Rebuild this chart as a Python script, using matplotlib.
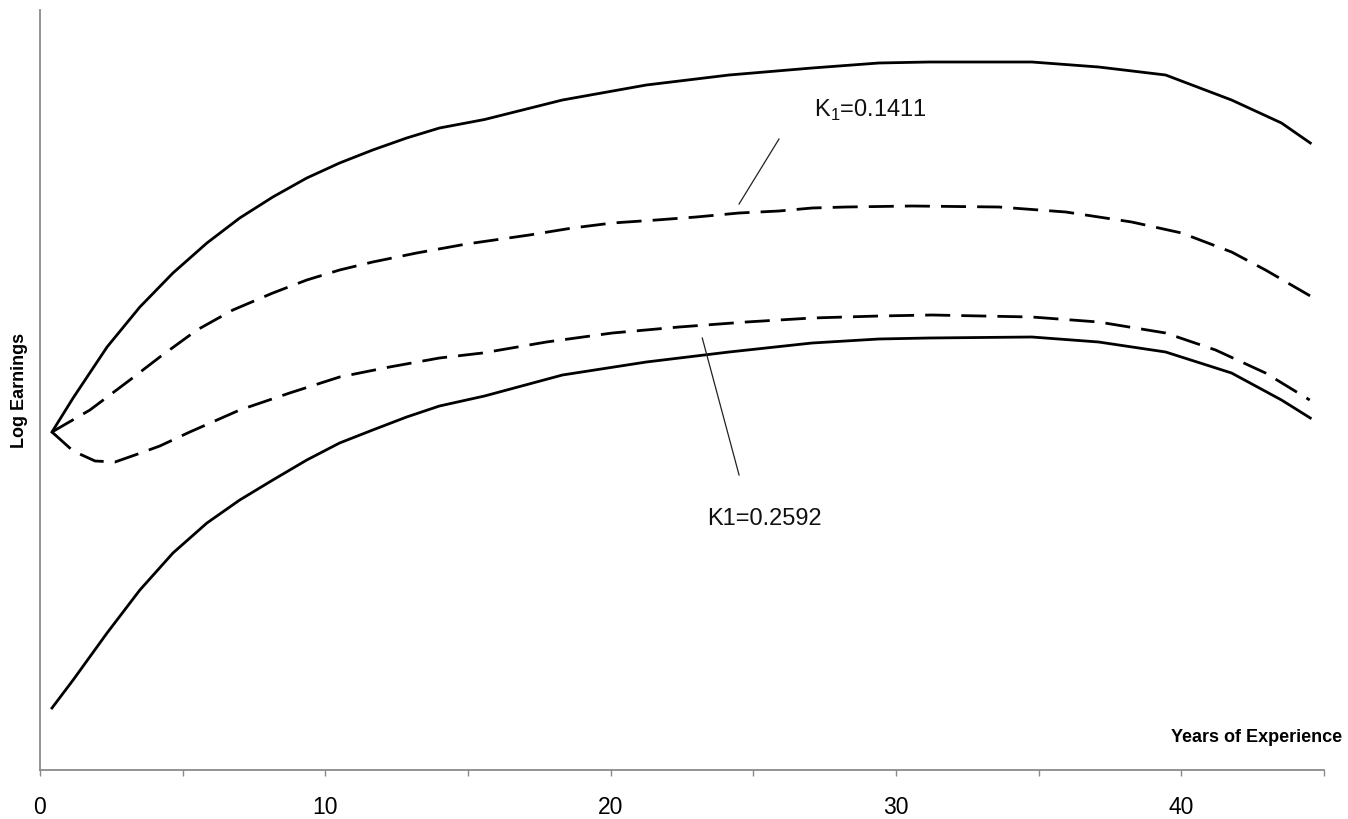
import matplotlib
matplotlib.use("Agg")
import matplotlib.pyplot as plt
from matplotlib.ticker import MultipleLocator, NullLocator

plt.rcParams['font.family'] = ['Liberation Sans', 'DejaVu Sans']
plt.rcParams['mathtext.fontset'] = 'custom'
plt.rcParams['mathtext.rm'] = 'Liberation Sans'
plt.rcParams['lines.scale_dashes'] = False

# Data (y in arbitrary log-earnings units)
x_solid = [0.42, 1.16, 2.35, 3.50, 4.66, 5.85, 7.00, 8.16, 9.35, 10.50, 11.66, 12.85,
           14.00, 15.58, 18.31, 21.25, 24.15, 27.06, 29.40, 31.15, 34.76, 37.10,
           39.45, 41.76, 43.51, 44.52]
upper_solid = [3.38, 3.72, 4.23, 4.63, 4.97, 5.27, 5.52, 5.73, 5.92, 6.07, 6.20, 6.32,
               6.42, 6.505, 6.70, 6.85, 6.95, 7.02, 7.07, 7.08, 7.08, 7.03,
               6.95, 6.70, 6.47, 6.27]
lower_solid = [0.62, 0.90, 1.37, 1.80, 2.17, 2.47, 2.70, 2.90, 3.10, 3.27, 3.40, 3.53,
               3.64, 3.74, 3.95, 4.08, 4.18, 4.27, 4.31, 4.32, 4.33, 4.28,
               4.18, 3.97, 3.70, 3.52]

x_dash_hi = [0.42, 1.75, 3.15, 4.20, 5.50, 6.76, 8.16, 9.35, 10.50, 11.66, 13.20, 14.95,
             17.15, 18.66, 20.06, 21.60, 23.00, 24.50, 25.90, 27.06, 28.25, 30.56,
             33.60, 35.95, 38.26, 40.01, 41.76, 42.95, 44.52]
dash_hi = [3.38, 3.60, 3.90, 4.13, 4.40, 4.60, 4.77, 4.90, 5.00, 5.08, 5.17, 5.26,
           5.35, 5.42, 5.47, 5.50, 5.53, 5.57, 5.59, 5.62, 5.63, 5.64,
           5.63, 5.58, 5.48, 5.37, 5.18, 5.00, 4.74]

x_dash_lo = [0.42, 1.16, 1.93, 2.63, 3.33, 4.20, 5.25, 7.00, 8.75, 10.50, 12.25, 14.00,
             15.51, 17.75, 20.06, 22.40, 24.75, 27.06, 29.40, 31.26, 34.76, 37.10,
             39.45, 41.20, 42.95, 44.50]
dash_lo = [3.38, 3.19, 3.09, 3.08, 3.15, 3.24, 3.38, 3.60, 3.77, 3.93, 4.03, 4.12,
           4.17, 4.28, 4.37, 4.43, 4.48, 4.52, 4.54, 4.55, 4.53, 4.48,
           4.37, 4.20, 3.97, 3.70]

label_hi = "K$_{\\mathregular{1}}$=0.1411"
label_lo = "K1=0.2592"
x_ticks = [0, 10, 20, 30, 40]

fig = plt.figure(figsize=(13.48, 8.19), dpi=100)
ax = fig.add_axes([40/1348, 49/819, 1284/1348, 760/819])

ax.plot(x_solid, upper_solid, color='black', lw=2.0, solid_joinstyle='round')
ax.plot(x_solid, lower_solid, color='black', lw=2.0, solid_joinstyle='round')
ax.plot(x_dash_hi, dash_hi, color='black', lw=2.0, dashes=(18, 8), dash_capstyle='butt',
        dash_joinstyle='round')
ax.plot(x_dash_lo, dash_lo, color='black', lw=2.0, dashes=(18, 8), dash_capstyle='butt',
        dash_joinstyle='round')

# leader lines
ax.plot([25.90, 24.50], [6.31, 5.66], color='#222222', lw=0.9)
ax.plot([23.21, 24.50], [4.32, 2.95], color='#222222', lw=0.9)

ax.text(27.13, 6.53, label_hi, fontsize=17, ha='left', va='baseline', color='#111111')
ax.text(23.38, 2.45, label_lo, fontsize=17, ha='left', va='baseline', color='#111111')

ax.set_xlim(0, 45)
ax.set_ylim(0, 7.6)
for s in ['top', 'right']:
    ax.spines[s].set_visible(False)
for s in ['left', 'bottom']:
    ax.spines[s].set_color('#8a8a8a')
    ax.spines[s].set_linewidth(1.3)

ax.xaxis.set_major_locator(MultipleLocator(10))
ax.xaxis.set_minor_locator(MultipleLocator(5))
ax.set_xticks(x_ticks)
ax.set_xticklabels([str(t) for t in x_ticks])
ax.tick_params(axis='x', which='both', direction='out', length=4, width=1.0,
               color='#8a8a8a', labelsize=16.5, pad=15)
ax.yaxis.set_major_locator(NullLocator())
ax.yaxis.set_minor_locator(NullLocator())

fig.text(20/1348, (819-390)/819, "Log Earnings", rotation=90, ha='center', va='center',
         fontsize=13, fontweight='bold')
fig.text(1342/1348, (819-737)/819, "Years of Experience", ha='right', va='center',
         fontsize=13, fontweight='bold')

fig.savefig("out.png", dpi=100)
